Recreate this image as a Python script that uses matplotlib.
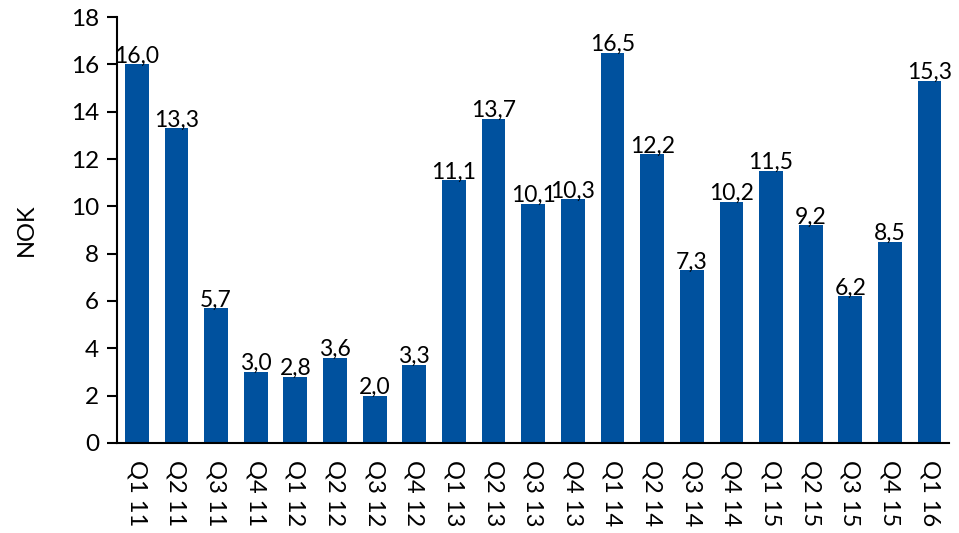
import matplotlib
matplotlib.use("Agg")
import matplotlib.pyplot as plt

quarters = ["Q1 11", "Q2 11", "Q3 11", "Q4 11", "Q1 12", "Q2 12", "Q3 12", "Q4 12",
            "Q1 13", "Q2 13", "Q3 13", "Q4 13", "Q1 14", "Q2 14", "Q3 14", "Q4 14",
            "Q1 15", "Q2 15", "Q3 15", "Q4 15", "Q1 16"]
values = [16.0, 13.3, 5.7, 3.0, 2.8, 3.6, 2.0, 3.3,
          11.1, 13.7, 10.1, 10.3, 16.5, 12.2, 7.3, 10.2,
          11.5, 9.2, 6.2, 8.5, 15.3]

plt.rcParams['font.family'] = ['Lato', 'DejaVu Sans']

fig = plt.figure(figsize=(9.59, 5.33), dpi=100)
ax = fig.add_axes([0.122, 0.169, 0.868, 0.799])

x = range(len(values))
ax.bar(x, values, width=0.6, color="#00519E")

for i, v in zip(x, values):
    ax.text(i, v - 0.1, f"{v:.1f}".replace(".", ","), ha="center", va="bottom", fontsize=16.5)

ax.set_xlim(-0.5, len(values) - 0.5)
ax.set_ylim(0, 18)
ax.set_yticks(range(0, 19, 2))
ax.set_xticks(list(x))
ax.set_xticklabels(quarters, rotation=270, fontsize=17, va="top", ha="center")
ax.tick_params(axis="x", length=0, pad=12)
ax.tick_params(axis="y", labelsize=17.5, length=7, width=1.5, pad=6)
ax.set_ylabel("NOK", fontsize=17, labelpad=24)

for s in ["top", "right"]:
    ax.spines[s].set_visible(False)
ax.spines["left"].set_linewidth(1.5)
ax.spines["bottom"].set_linewidth(1.5)

fig.savefig("out.png", dpi=100)
